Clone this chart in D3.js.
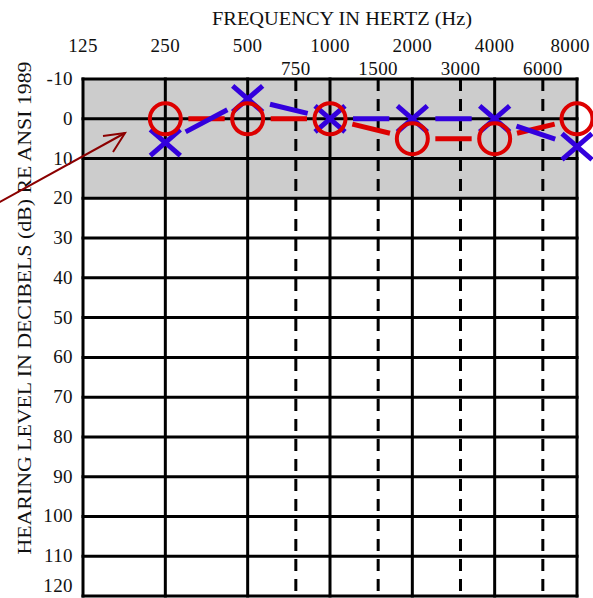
<!DOCTYPE html>
<html>
<head>
<meta charset="utf-8">
<script src="https://cdn.jsdelivr.net/npm/d3@7"></script>
<style>
  html, body { margin: 0; padding: 0; background: #fff; }
  svg { display: block; }
  text { font-family: "Liberation Serif", "Times New Roman", serif; fill: #111; }
</style>
</head>
<body>
<svg id="chart" width="593" height="598"></svg>
<script>
// ---- data ----
const octaveFreqs = [125, 250, 500, 1000, 2000, 4000, 8000];
const octaveLabels = ["125", "250", "500", "1000", "2000", "4000", "8000"];
const halfOctaveFreqs = [750, 1500, 3000, 6000];
const halfOctaveLabels = ["750", "1500", "3000", "6000"];
const dbTicks = [-10, 0, 10, 20, 30, 40, 50, 60, 70, 80, 90, 100, 110, 120];
const testFreqs = [250, 500, 1000, 2000, 4000, 8000];
const rightEar = [0, 0, 0, 5, 5, 0];     // red O
const leftEar = [6, -5, 0, 0, 0, 7];     // blue X
const xTitle = "FREQUENCY IN HERTZ (Hz)";
const yTitle = "HEARING LEVEL IN DECIBELS (dB) RE ANSI 1989";

// ---- layout ----
const svg = d3.select("#chart");
const x = d3.scaleLog().base(2).domain([125, 8000]).range([83, 577]);
const y = d3.scaleLinear().domain([-10, 120]).range([79, 596]);

const RED = "#dd0000", BLUE = "#3300dd";

// grey normal band
svg.append("rect")
  .attr("x", x(125)).attr("y", y(-10))
  .attr("width", x(8000) - x(125)).attr("height", y(20) - y(-10))
  .attr("fill", "#cccccc");

// half octave dashed lines
svg.append("g").selectAll("line").data(halfOctaveFreqs).join("line")
  .attr("x1", d => x(d)).attr("x2", d => x(d))
  .attr("y1", y(-10)).attr("y2", y(120))
  .attr("stroke", "#000").attr("stroke-width", 3)
  .attr("stroke-dasharray", "12,8");

// horizontal grid lines
svg.append("g").selectAll("line").data(dbTicks).join("line")
  .attr("x1", x(125) - 1.5).attr("x2", x(8000) + 1.5)
  .attr("y1", d => y(d)).attr("y2", d => y(d))
  .attr("stroke", "#000").attr("stroke-width", 3);

// octave vertical lines
svg.append("g").selectAll("line").data(octaveFreqs).join("line")
  .attr("x1", d => x(d)).attr("x2", d => x(d))
  .attr("y1", y(-10) - 1.5).attr("y2", y(120) + 1.5)
  .attr("stroke", "#000").attr("stroke-width", 3);

// axis labels
svg.append("text").attr("x", 342).attr("y", 25).attr("text-anchor", "middle")
  .attr("font-size", 18).attr("textLength", 260).attr("lengthAdjust", "spacingAndGlyphs")
  .text(xTitle);

svg.append("g").selectAll("text").data(octaveFreqs).join("text")
  .attr("x", (d, i) => i === octaveFreqs.length - 1 ? 590 : x(d))
  .attr("y", 52)
  .attr("text-anchor", (d, i) => i === octaveFreqs.length - 1 ? "end" : "middle")
  .attr("font-size", 19).attr("letter-spacing", 0.4)
  .text((d, i) => octaveLabels[i]);

svg.append("g").selectAll("text").data(halfOctaveFreqs).join("text")
  .attr("x", d => x(d)).attr("y", 75)
  .attr("text-anchor", "middle").attr("font-size", 19).attr("letter-spacing", 0.4)
  .text((d, i) => halfOctaveLabels[i]);

svg.append("g").selectAll("text").data(dbTicks).join("text")
  .attr("x", 73).attr("y", d => Math.min(y(d) + 6, 592))
  .attr("text-anchor", "end").attr("font-size", 19).attr("letter-spacing", 0.4)
  .text(d => d < 0 ? "-" + Math.abs(d) : String(d));

svg.append("text")
  .attr("transform", "translate(31,308) rotate(-90)")
  .attr("text-anchor", "middle").attr("font-size", 18)
  .attr("textLength", 493).attr("lengthAdjust", "spacingAndGlyphs")
  .text(yTitle);

// annotation arrow
const arrow = svg.append("g").attr("stroke", "#8b0000").attr("stroke-width", 2).attr("fill", "none");
arrow.append("line").attr("x1", -2).attr("y1", 203).attr("x2", 125).attr("y2", 133);
arrow.append("polyline").attr("points", "103,136 125,133 113,152");

// connecting lines (trimmed near symbols)
function segments(vals) {
  const pts = testFreqs.map((f, i) => [x(f), y(vals[i])]);
  const segs = [];
  for (let i = 0; i < pts.length - 1; i++) {
    const [x1, y1] = pts[i], [x2, y2] = pts[i + 1];
    const L = Math.hypot(x2 - x1, y2 - y1), t = 23 / L;
    segs.push([x1 + (x2 - x1) * t, y1 + (y2 - y1) * t, x2 - (x2 - x1) * t, y2 - (y2 - y1) * t]);
  }
  return segs;
}
function drawSegs(vals, color) {
  svg.append("g").selectAll("line").data(segments(vals)).join("line")
    .attr("x1", d => d[0]).attr("y1", d => d[1]).attr("x2", d => d[2]).attr("y2", d => d[3])
    .attr("stroke", color).attr("stroke-width", 5);
}
drawSegs(rightEar, RED);
drawSegs(leftEar, BLUE);

// blue X symbols
const xs = svg.append("g").attr("stroke", BLUE).attr("stroke-width", 5);
testFreqs.forEach((f, i) => {
  const cx = x(f), cy = y(leftEar[i]);
  xs.append("line").attr("x1", cx - 15).attr("y1", cy - 13).attr("x2", cx + 15).attr("y2", cy + 13);
  xs.append("line").attr("x1", cx - 15).attr("y1", cy + 13).attr("x2", cx + 15).attr("y2", cy - 13);
});

// red O symbols
svg.append("g").selectAll("circle").data(testFreqs).join("circle")
  .attr("cx", d => x(d)).attr("cy", (d, i) => y(rightEar[i]))
  .attr("r", 15.5).attr("fill", "none").attr("stroke", RED).attr("stroke-width", 4);
</script>
</body>
</html>
